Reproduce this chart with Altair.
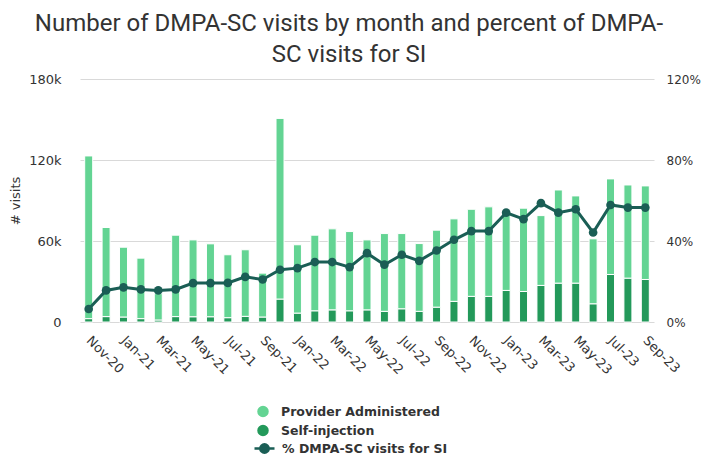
import altair as alt
import pandas as pd

months = ["Nov-20", "Dec-20", "Jan-21", "Feb-21", "Mar-21", "Apr-21", "May-21", "Jun-21",
          "Jul-21", "Aug-21", "Sep-21", "Dec-21", "Jan-22", "Feb-22", "Mar-22", "Apr-22",
          "May-22", "Jun-22", "Jul-22", "Aug-22", "Sep-22", "Oct-22", "Nov-22", "Dec-22",
          "Jan-23", "Feb-23", "Mar-23", "Apr-23", "May-23", "Jun-23", "Jul-23", "Aug-23", "Sep-23"]

tick_labels = ["Nov-20", "Jan-21", "Mar-21", "May-21", "Jul-21", "Sep-21", "Jan-22", "Mar-22",
               "May-22", "Jul-22", "Sep-22", "Nov-22", "Jan-23", "Mar-23", "May-23", "Jul-23", "Sep-23"]

provider_administered = [120500, 66000, 51700, 44800, 19500, 60300, 56900, 54000,
                         46600, 49300, 32500, 133800, 50600, 56000, 60000, 58700,
                         51800, 57600, 55700, 50200, 57000, 61100, 64500, 66300,
                         59600, 61700, 51700, 69000, 64600, 48100, 70800, 69000, 69300]

self_injection = [2500, 4000, 3700, 2500, 1500, 4000, 3900, 3900,
                  3200, 4200, 3700, 17000, 6600, 8300, 9000, 8300,
                  9000, 7900, 9800, 7900, 11000, 15300, 19000, 19000,
                  23400, 22600, 27100, 28800, 28800, 13500, 35200, 32500, 31500]

pct_si = [6.4, 15.6, 17.1, 16.1, 15.6, 16.1, 19.2, 19.2,
          19.3, 22.3, 21.0, 25.8, 26.6, 29.6, 29.6, 27.1,
          34.0, 28.3, 33.2, 30.2, 35.3, 40.6, 44.9, 44.9,
          54.0, 50.8, 58.7, 54.0, 55.7, 44.2, 57.8, 56.5, 56.5]

cat_provider = "Provider Administered"
cat_si = "Self-injection"
line_name = "% DMPA-SC visits for SI"

LIGHT = "#63d493"
DARK = "#23995a"
TEAL = "#1a5e55"

rows = []
for m, p, s in zip(months, provider_administered, self_injection):
    rows.append({"month": m, "category": cat_si, "visits": s, "ord": 0})
    rows.append({"month": m, "category": cat_provider, "visits": p, "ord": 1})
bars_df = pd.DataFrame(rows)
line_df = pd.DataFrame({"month": months, "pct": pct_si, "series": [line_name] * len(months)})

x_enc = alt.X("month:N", sort=months,
              scale=alt.Scale(paddingInner=0.54, paddingOuter=0.27),
              axis=alt.Axis(values=tick_labels, labelAngle=45, labelAlign="left",
                            labelBaseline="middle", labelPadding=16, title=None,
                            domain=False, ticks=False, grid=False))

bars = alt.Chart(bars_df).mark_bar(stroke="white", strokeWidth=1).encode(
    x=x_enc,
    y=alt.Y("visits:Q", stack="zero",
            scale=alt.Scale(domain=[0, 180000], nice=False),
            axis=alt.Axis(values=[0, 60000, 120000, 180000],
                          labelExpr="datum.value == 0 ? '0' : (datum.value / 1000) + 'k'",
                          title="# visits", titleAngle=-90, titleX=-71, titleY=121.5,
                          titleAlign="center", titleBaseline="top",
                          labelPadding=19, grid=True)),
    color=alt.Color("category:N",
                    scale=alt.Scale(domain=[cat_provider, cat_si], range=[LIGHT, DARK]),
                    legend=alt.Legend(title=None, orient="none", legendX=175.5, legendY=325,
                                      symbolType="circle", symbolSize=169,
                                      labelOffset=10.5, rowPadding=0, labelLimit=0)),
    order=alt.Order("ord:Q"),
)

path_sym = "M-1,0L1,0M0.42,0A0.42,0.42,0,1,1,-0.42,0A0.42,0.42,0,1,1,0.42,0Z"

line = alt.Chart(line_df).mark_line(strokeWidth=3).encode(
    x=alt.X("month:N", sort=months),
    y=alt.Y("pct:Q", scale=alt.Scale(domain=[0, 120], nice=False),
            axis=alt.Axis(values=[0, 40, 80, 120], labelExpr="datum.value + '%'",
                          orient="right", title=None, labelPadding=12, labelFontSize=12,
                          grid=False)),
    stroke=alt.Stroke("series:N", scale=alt.Scale(domain=[line_name], range=[TEAL]),
                      legend=alt.Legend(title=None, orient="none", legendX=173, legendY=358,
                                        symbolType=path_sym, symbolSize=400,
                                        symbolStrokeWidth=2.5, symbolFillColor=TEAL,
                                        labelOffset=6, labelLimit=0)),
)

points = alt.Chart(line_df).mark_circle(size=75, opacity=1, color=TEAL).encode(
    x=alt.X("month:N", sort=months),
    y=alt.Y("pct:Q", scale=alt.Scale(domain=[0, 120], nice=False), axis=None),
)

chart = alt.layer(bars, line, points).resolve_scale(
    y="independent", color="independent", stroke="independent"
).properties(
    width=574, height=243,
    autosize=alt.AutoSizeParams(type="none"),
    padding={"left": 72, "top": 71, "right": 47, "bottom": 132},
    title=alt.Title(["Number of DMPA-SC visits by month and percent of DMPA-", "SC visits for SI"],
                    anchor="middle", frame="group", dx=-18, dy=8, offset=14,
                    font="Roboto", fontSize=24, fontWeight="normal", color="#333333",
                    lineHeight=31),
).configure_view(stroke=None).configure_axis(
    labelFont="DejaVu Sans", labelFontSize=13, labelColor="#333333",
    titleFont="DejaVu Sans", titleFontSize=13, titleFontWeight="normal", titleColor="#333333",
    domain=False, ticks=False, gridColor="#d9d9d9", gridWidth=1,
).configure_legend(
    labelFont="DejaVu Sans", labelFontSize=12.5, labelFontWeight="bold", labelColor="#333333",
    padding=0,
)

chart.save("out.html", embed_options={"renderer": "svg", "actions": False})
